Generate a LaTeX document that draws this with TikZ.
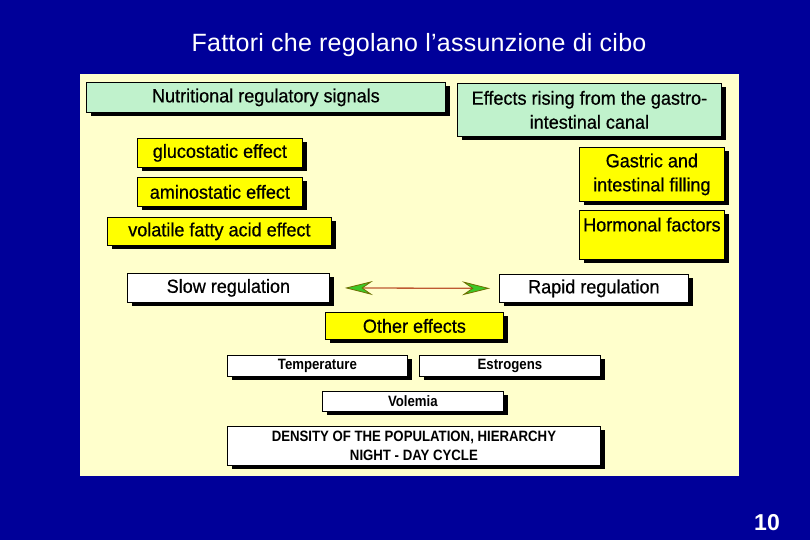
\documentclass[tikz,border=0pt]{standalone}
\usepackage{fontspec}
\setmainfont{Liberation Sans}
\newfontfamily\titlefont[LetterSpace=1]{Liberation Sans}
\newfontfamily\boxfont[FakeStretch=0.95,FakeBold=0.6]{Liberation Sans}
\newfontfamily\narrowfont[FakeStretch=0.88]{Liberation Sans Bold}
\usetikzlibrary{arrows.meta,shadows}
\definecolor{slidebg}{RGB}{0,0,153}
\definecolor{panelbg}{RGB}{255,255,204}
\definecolor{mintbox}{RGB}{192,242,204}
\definecolor{yellowbox}{RGB}{255,255,0}
\definecolor{arrowline}{RGB}{190,90,50}
\definecolor{arrowfill}{RGB}{60,200,40}
\definecolor{arrowedge}{RGB}{110,110,0}
\begin{document}
\begin{tikzpicture}[x=1pt,y=-1pt,
  box/.style={draw=black, line width=0.8pt, inner sep=0pt, anchor=north west,
    align=center, text=black,
    general shadow={fill=black, shadow xshift=4.5pt, shadow yshift=-4pt},
    font=\boxfont\fontsize{19}{24}\selectfont},
  smallbox/.style={box, fill=white, font=\narrowfont\fontsize{15}{19}\selectfont},
  mint/.style={fill=mintbox},
  yel/.style={fill=yellowbox},
  wht/.style={fill=white},
  biarrow/.style={draw=arrowline, line width=1.3pt,
    {Stealth[length=28pt,width=14pt,inset=10pt,fill=arrowfill,color=arrowedge,line width=0.8pt]}-{Stealth[length=28pt,width=14pt,inset=10pt,fill=arrowfill,color=arrowedge,line width=0.8pt]}}
]
\useasboundingbox (0,0) rectangle (810,540);
\fill[slidebg] (0,0) rectangle (810,540);
\fill[panelbg] (80,74) rectangle (739,476);

\node[text=white, font=\titlefont\fontsize{25}{28}\selectfont] (title) at (419,45.5)
  {Fattori che regolano l’assunzione di cibo};
\node[text=white, font=\bfseries\fontsize{23}{26}\selectfont] (pagenum) at (767,522.5) {10};

\node[box, mint, minimum width=359pt, minimum height=30pt] (nut) at (86,82)
  {Nutritional regulatory signals};
\node[box, mint, minimum width=264pt, minimum height=53pt] (gi) at (457,83)
  {Effects rising from the gastro-\\intestinal canal};

\node[box, yel, minimum width=165pt, minimum height=29pt] (gluc) at (137,138)
  {glucostatic effect};
\node[box, yel, minimum width=165pt, minimum height=29pt] (amino) at (137,177)
  {aminostatic effect};
\node[box, yel, minimum width=224pt, minimum height=28pt] (vfa) at (107,217)
  {volatile fatty acid effect};

\node[box, yel, minimum width=145pt, minimum height=54pt] (gastric) at (579,147)
  {Gastric and\\intestinal filling};
\node[box, yel, minimum width=145pt, text height=21pt, text depth=28pt] (horm) at (579,210)
  {Hormonal factors};

\node[box, wht, minimum width=202pt, minimum height=29pt] (slow) at (127,273)
  {Slow regulation};
\node[box, wht, minimum width=189pt, minimum height=28pt] (rapid) at (499,274)
  {Rapid regulation};
\draw[biarrow, shorten <=15pt, shorten >=9pt] (slow.east) -- (rapid.west);

\node[box, yel, minimum width=178pt, minimum height=27pt] (other) at (325,312)
  {Other effects};

\node[smallbox, minimum width=180pt, minimum height=21pt] (temp) at (227,355)
  {Temperature};
\node[smallbox, minimum width=181pt, minimum height=21pt] (estr) at (419,355)
  {Estrogens};
\node[smallbox, minimum width=181pt, minimum height=20pt] (vol) at (322,391)
  {Volemia};
\node[smallbox, minimum width=373pt, minimum height=39pt] (dens) at (227,426)
  {DENSITY OF THE POPULATION, HIERARCHY\\NIGHT - DAY CYCLE};
\end{tikzpicture}
\end{document}
